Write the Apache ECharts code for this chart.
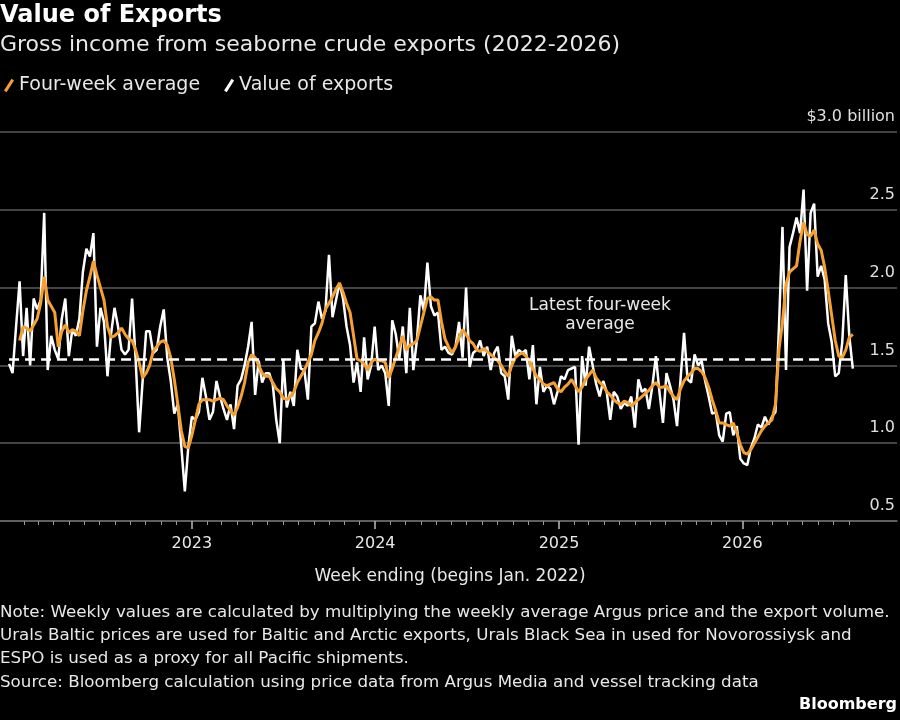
<!DOCTYPE html>
<html><head><meta charset="utf-8">
<script src="https://cdn.jsdelivr.net/npm/echarts@6/dist/echarts.min.js"></script>
<style>html,body{margin:0;padding:0;background:#000}#c{width:900px;height:720px}</style>
</head><body><div id="c"></div>
<script>
// ---- data ----
const firstWeekEnding = [2022, 0, 2];   // year, month(0-based), day of first weekly point
const exportsValue = [
1.51,1.45,1.75,2.04,1.56,1.87,1.50,1.93,1.86,1.92,
2.48,1.47,1.69,1.60,1.54,1.80,1.93,1.56,1.73,1.69,
1.80,2.10,2.25,2.20,2.35,1.62,1.87,1.78,1.43,1.70,
1.87,1.75,1.60,1.57,1.60,1.93,1.54,1.07,1.40,1.72,
1.72,1.58,1.60,1.75,1.86,1.55,1.40,1.19,1.25,0.98,
0.69,0.98,1.17,1.15,1.20,1.42,1.30,1.15,1.20,1.40,
1.30,1.22,1.15,1.25,1.09,1.37,1.41,1.50,1.62,1.78,
1.31,1.53,1.39,1.45,1.45,1.38,1.15,1.00,1.54,1.23,
1.33,1.24,1.60,1.48,1.47,1.28,1.75,1.77,1.91,1.80,
1.85,2.21,1.81,1.92,2.03,1.93,1.75,1.63,1.39,1.52,
1.33,1.68,1.41,1.50,1.75,1.47,1.50,1.45,1.24,1.79,
1.70,1.54,1.75,1.45,1.87,1.47,1.66,1.95,1.85,2.16,
1.88,1.82,1.84,1.60,1.62,1.58,1.57,1.62,1.78,1.55,
2.00,1.49,1.58,1.60,1.66,1.56,1.62,1.47,1.58,1.62,
1.45,1.43,1.28,1.69,1.56,1.60,1.58,1.60,1.41,1.63,
1.25,1.49,1.33,1.37,1.35,1.25,1.33,1.43,1.41,1.47,
1.48,1.49,0.99,1.56,1.37,1.62,1.50,1.38,1.30,1.40,
1.33,1.15,1.33,1.30,1.22,1.26,1.24,1.30,1.10,1.41,
1.33,1.35,1.22,1.37,1.56,1.33,1.13,1.45,1.37,1.28,
1.11,1.41,1.71,1.41,1.39,1.57,1.50,1.53,1.40,1.30,
1.19,1.20,1.05,1.01,1.19,1.20,1.05,1.11,0.90,0.87,
0.86,0.97,1.03,1.12,1.10,1.17,1.12,1.17,1.20,1.75,
2.39,1.47,2.26,2.35,2.45,2.35,2.63,1.98,2.48,2.54,
2.07,2.14,2.05,1.77,1.65,1.43,1.45,1.65,2.08,1.69,
1.48
];
const fourWeekStart = 3;   // first week index with a four-week average
const fourWeekAvg = [
1.66,1.75,1.74,1.72,1.76,1.80,1.90,2.07,1.92,1.88,
1.84,1.62,1.72,1.76,1.71,1.73,1.72,1.69,1.85,1.98,
2.07,2.17,2.08,2.00,1.92,1.75,1.68,1.69,1.71,1.74,
1.70,1.67,1.66,1.60,1.52,1.42,1.45,1.50,1.59,1.62,
1.65,1.66,1.63,1.55,1.41,1.25,1.08,0.98,0.97,1.05,
1.15,1.25,1.28,1.28,1.28,1.27,1.28,1.29,1.28,1.24,
1.21,1.18,1.23,1.30,1.39,1.52,1.57,1.55,1.50,1.45,
1.43,1.43,1.39,1.35,1.33,1.29,1.28,1.30,1.33,1.39,
1.43,1.47,1.52,1.57,1.66,1.71,1.77,1.86,1.90,1.94,
1.99,2.03,1.97,1.90,1.84,1.69,1.54,1.53,1.51,1.47,
1.52,1.54,1.53,1.53,1.52,1.42,1.48,1.55,1.62,1.69,
1.60,1.63,1.64,1.66,1.75,1.84,1.93,1.94,1.92,1.92,
1.78,1.67,1.62,1.58,1.62,1.68,1.73,1.70,1.66,1.64,
1.60,1.59,1.61,1.59,1.57,1.55,1.53,1.50,1.46,1.43,
1.50,1.55,1.57,1.58,1.56,1.53,1.48,1.43,1.41,1.38,
1.37,1.38,1.39,1.35,1.33,1.36,1.38,1.41,1.37,1.33,
1.36,1.41,1.44,1.47,1.42,1.39,1.37,1.33,1.31,1.28,
1.26,1.25,1.27,1.26,1.24,1.26,1.28,1.30,1.32,1.34,
1.37,1.39,1.36,1.36,1.37,1.33,1.30,1.28,1.35,1.40,
1.43,1.45,1.48,1.48,1.46,1.42,1.36,1.28,1.21,1.13,
1.13,1.12,1.11,1.13,1.07,0.99,0.94,0.93,0.96,1.00,
1.04,1.08,1.11,1.13,1.15,1.25,1.60,1.78,2.02,2.10,
2.12,2.14,2.30,2.42,2.34,2.33,2.37,2.28,2.24,2.13,
1.98,1.82,1.66,1.56,1.55,1.60,1.68,1.70
];
const latestAverage = 1.54;
const yTickValues = [0.5, 1.0, 1.5, 2.0, 2.5, 3.0];
const yearTicks = [2023, 2024, 2025, 2026];
const seriesNames = ['Four-week average', 'Value of exports'];
const titleText = 'Value of Exports';
const subtitleText = 'Gross income from seaborne crude exports (2022-2026)';
const xAxisTitle = 'Week ending (begins Jan. 2022)';
const annotationLines = ['Latest four-week', 'average'];
const noteLines = [
  'Note: Weekly values are calculated by multiplying the weekly average Argus price and the export volume.',
  'Urals Baltic prices are used for Baltic and Arctic exports, Urals Black Sea in used for Novorossiysk and',
  'ESPO is used as a proxy for all Pacific shipments.',
  'Source: Bloomberg calculation using price data from Argus Media and vessel tracking data'
];

// ---- build ----
function weekDate(i) { return new Date(firstWeekEnding[0], firstWeekEnding[1], firstWeekEnding[2] + 7 * i).getTime(); }
const whiteData = exportsValue.map((v, i) => [weekDate(i), v]);
const orangeData = fourWeekAvg.map((v, i) => [weekDate(i + fourWeekStart), v]);
const yearTs = yearTicks.map(y => new Date(y, 0, 1).getTime());
const monthTs = [];
for (let y = 2022; y <= 2026; y++) for (let m = 1; m < 12; m++) {
  if (y === 2026 && m > 7) break;
  monthTs.push(new Date(y, m, 1).getTime());
}
const xMin = new Date(2021, 11, 15).getTime();
const xMax = new Date(2026, 10, 5).getTime();

const FONT = 'DejaVu Sans';
const ORANGE = '#f5a031';
const chart = echarts.init(document.getElementById('c'), null, { renderer: 'canvas' });
const slash = 'path://M0,14 L9,0 L12,2 L3,16 Z';

const gText = (x, y, text, style) => ({ type: 'text', x, y, style: Object.assign({ text, fill: '#e8e8e8', font: '17px ' + FONT }, style) });

chart.setOption({
  backgroundColor: '#000',
  animation: false,
  textStyle: { fontFamily: FONT },
  grid: { left: 0, right: 3, top: 132, bottom: 199, containLabel: false },
  legend: {
    data: seriesNames, left: -1, top: 71, icon: slash, itemWidth: 10, itemHeight: 15, itemGap: 24,
    textStyle: { color: '#e8e8e8', fontSize: 19, fontFamily: FONT }
  },
  xAxis: [{
    type: 'value', position: 'bottom', min: xMin, max: xMax, scale: true,
    axisLine: { show: true, onZero: false, lineStyle: { color: '#6a6a6a', width: 1.5 } },
    axisTick: { show: true, customValues: yearTs, length: 8, lineStyle: { color: '#bbb', width: 1.5 } },
    axisLabel: { customValues: yearTs, color: '#e8e8e8', fontSize: 16, margin: 15, fontFamily: FONT,
      formatter: v => String(new Date(v).getFullYear()) },
    splitLine: { show: false }
  }, {
    type: 'value', position: 'bottom', min: xMin, max: xMax, scale: true,
    axisLine: { show: false, onZero: false },
    axisTick: { show: true, customValues: monthTs, length: 4, lineStyle: { color: '#999', width: 1 } },
    axisLabel: { show: false },
    splitLine: { show: false }
  }],
  yAxis: {
    type: 'value', position: 'right', min: 0.5, max: 3.0, interval: 0.5,
    axisLine: { show: false }, axisTick: { show: false },
    splitLine: { lineStyle: { color: '#5a5a5a', width: 1.5 } },
    axisLabel: {
      inside: true, margin: 2, color: '#e0e0e0', fontSize: 16, fontFamily: FONT,
      verticalAlign: 'bottom', padding: [0, 0, 7, 0],
      formatter: v => (Math.abs(v - 3) < 1e-9 ? '$3.0 billion' : v.toFixed(1))
    }
  },
  series: [{
    name: seriesNames[1], type: 'line', data: whiteData, showSymbol: false, symbol: 'none',
    lineStyle: { color: '#ffffff', width: 2.5 }, itemStyle: { color: '#ffffff' }, z: 2,
    markLine: {
      silent: true, symbol: 'none', label: { show: false },
      lineStyle: { color: '#ffffff', type: [10, 6], width: 2.5 },
      data: [[{ coord: [weekDate(0), latestAverage] }, { coord: [weekDate(exportsValue.length - 1), latestAverage] }]]
    }
  }, {
    name: seriesNames[0], type: 'line', data: orangeData, showSymbol: false, symbol: 'none',
    lineStyle: { color: ORANGE, width: 3 }, itemStyle: { color: ORANGE }, z: 3
  }],
  graphic: [
    gText(0, 4, titleText, { fill: '#ffffff', font: 'bold 24px ' + FONT }),
    gText(0, 34, subtitleText, { fill: '#e8e8e8', font: '22px ' + FONT }),
    gText(600, 297, annotationLines[0], { textAlign: 'center', font: '17px ' + FONT }),
    gText(600, 316, annotationLines[1], { textAlign: 'center', font: '17px ' + FONT }),
    gText(450, 568, xAxisTitle, { textAlign: 'center', font: '17px ' + FONT }),
    gText(0, 604, noteLines[0], { font: '16.7px ' + FONT }),
    gText(0, 627, noteLines[1], { font: '16.7px ' + FONT }),
    gText(0, 650, noteLines[2], { font: '16.7px ' + FONT }),
    gText(0, 674, noteLines[3], { font: '16.7px ' + FONT }),
    gText(897, 697, 'Bloomberg', { textAlign: 'right', fill: '#ffffff', font: 'bold 16px ' + FONT })
  ]
});
</script></body></html>
